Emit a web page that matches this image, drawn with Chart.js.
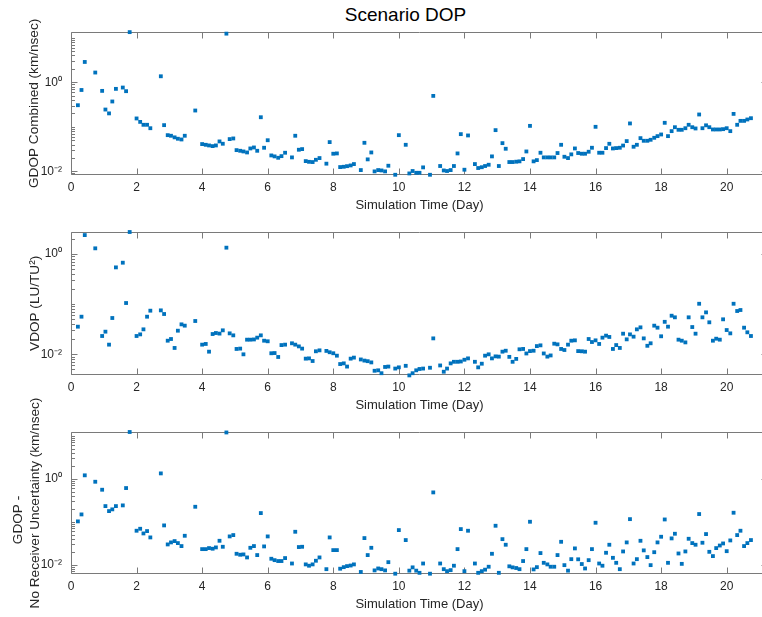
<!DOCTYPE html>
<html>
<head>
<meta charset="utf-8">
<script src="https://cdn.jsdelivr.net/npm/chart.js@4.4.1/dist/chart.umd.min.js"></script>
<style>
html,body{margin:0;padding:0;background:#fff;overflow:hidden;width:762px;height:617px;}
#wrap{position:relative;width:762px;height:617px;overflow:hidden;background:#fff;}
canvas{position:absolute;left:0;}
#title{position:absolute;left:0;width:811px;top:4px;text-align:center;font-family:"Liberation Sans",Arial,sans-serif;font-size:19px;line-height:22px;color:#000;}
</style>
</head>
<body>
<div id="wrap">
  <div id="title">Scenario DOP</div>
  <canvas id="c1" width="790" height="215" style="top:0px"></canvas>
  <canvas id="c2" width="790" height="200" style="top:215px"></canvas>
  <canvas id="c3" width="790" height="232" style="top:385px"></canvas>
</div>
<script>
// ---------------- DATA ----------------
// Simulation time (days) of each sample
const days = [
  0.21,0.32,0.42,0.53,0.63,0.74,0.84,0.95,1.05,1.16,1.26,1.37,1.47,1.58,1.68,1.79,1.89,
  2.00,2.11,2.21,2.32,2.42,2.53,2.63,2.74,2.84,2.95,3.05,3.16,3.26,3.37,3.47,3.58,3.68,3.79,3.89,
  4.00,4.11,4.21,4.32,4.42,4.53,4.63,4.74,4.84,4.95,5.05,5.16,5.26,5.37,5.47,5.58,5.68,5.79,5.89,
  6.00,6.11,6.21,6.32,6.42,6.53,6.63,6.74,6.84,6.95,7.05,7.16,7.26,7.37,7.47,7.58,7.68,7.79,7.89,
  8.00,8.11,8.21,8.32,8.42,8.53,8.63,8.74,8.84,8.95,9.05,9.16,9.26,9.37,9.47,9.58,9.68,9.79,9.89,
  10.00,10.11,10.21,10.32,10.42,10.53,10.63,10.74,10.84,10.95,11.05,11.16,11.26,11.37,11.47,11.58,11.68,11.79,11.89,
  12.00,12.11,12.21,12.32,12.42,12.53,12.63,12.74,12.84,12.95,13.05,13.16,13.26,13.37,13.47,13.58,13.68,13.79,13.89,
  14.00,14.11,14.21,14.32,14.42,14.53,14.63,14.74,14.84,14.95,15.05,15.16,15.26,15.37,15.47,15.58,15.68,15.79,15.89,
  16.00,16.11,16.21,16.32,16.42,16.53,16.63,16.74,16.84,16.95,17.05,17.16,17.26,17.37,17.47,17.58,17.68,17.79,17.89,
  18.00,18.11,18.21,18.32,18.42,18.53,18.63,18.74,18.84,18.95,19.05,19.16,19.26,19.37,19.47,19.58,19.68,19.79,19.89,
  20.00,20.11,20.21,20.32,20.42,20.53,20.63,20.74
];

// GDOP Combined (km/nsec)
const gdopCombined = [
  0.305,0.67,2.85,null,null,1.65,null,0.64,0.244,0.20,0.37,0.71,null,0.76,0.63,13.3,null,
  0.154,0.129,0.111,0.111,0.093,null,null,1.36,0.109,0.065,0.063,0.058,0.054,0.052,0.063,null,null,0.232,null,
  0.041,0.0395,0.0382,0.0369,0.0382,0.047,0.0417,12.3,0.053,0.0548,0.030,0.029,0.028,0.0266,0.0327,0.0344,0.029,0.164,0.0339,
  0.050,0.0228,0.0217,0.0202,0.022,0.0262,null,0.0206,0.063,0.0306,0.0316,0.017,0.0164,0.0162,0.0182,0.0199,null,0.0149,0.0454,
  0.0249,0.0253,0.0125,0.0127,0.0131,0.0136,0.0146,null,0.0107,0.0438,0.0186,0.0266,0.0100,0.0107,0.0105,0.0100,0.0134,null,0.0084,
  0.065,null,0.0395,0.0090,0.0102,0.0093,0.0093,0.0123,null,0.0084,0.494,null,0.0132,0.0105,0.0102,0.0107,0.0132,0.0253,0.0685,
  0.0109,0.064,null,0.0146,0.0119,0.0124,0.0132,0.0141,0.0217,0.0842,0.0132,0.043,0.0322,0.0162,0.0162,0.0165,0.0168,0.0189,0.028,
  0.105,0.0168,0.0179,0.0262,0.0206,0.0206,0.0206,0.0206,0.0258,0.0395,0.0213,0.0199,0.0241,0.0327,0.0258,0.0249,0.0249,0.0276,0.0339,
  0.100,0.0262,0.0262,0.0333,0.0416,0.0327,0.0333,0.0339,0.038,0.0478,0.119,0.0357,0.0395,0.0557,0.0486,0.0486,0.0512,0.0567,0.0618,
  0.0673,0.123,0.0618,0.080,0.098,0.0857,0.0857,0.093,0.111,0.098,0.0918,0.189,0.093,0.108,0.098,0.0872,0.0872,0.0872,0.0886,
  0.093,0.080,0.195,0.111,0.136,0.136,0.146,0.156
];

// VDOP (LU/TU^2)
const vdop = [
  0.0356,0.0563,2.39,null,null,1.30,null,0.0232,0.0283,0.0156,0.053,0.542,null,0.672,0.1055,2.75,null,
  0.0232,0.025,0.0315,0.0563,0.0742,null,null,0.0753,0.0637,0.0187,0.0202,0.0134,0.0296,0.0396,0.0373,null,null,0.0462,null,
  0.0156,0.0161,0.0113,0.0254,0.0266,0.0259,0.0301,1.34,0.0262,0.0239,0.0128,0.013,0.0100,0.0196,0.0196,0.0198,0.0215,0.0239,0.0187,
  0.0182,0.0105,0.0106,0.00885,0.0153,0.0156,null,0.0166,0.0156,0.0144,0.013,0.0082,0.0083,0.00736,0.0115,0.012,null,0.0117,0.011,
  0.0105,0.0094,0.0064,0.0066,0.0057,0.0082,0.0086,null,0.0079,0.0075,0.0073,0.0069,0.0047,0.0048,0.0042,0.0056,0.0057,null,0.0052,
  0.0055,null,0.0059,0.0038,0.0042,0.0048,0.0051,0.0052,null,0.0054,0.0208,null,0.006,0.0045,0.0052,0.0066,0.0071,0.0071,0.0072,
  0.0078,0.0083,null,0.0071,0.0055,0.0065,0.0094,0.0100,0.0083,0.0091,0.0090,0.0113,0.0118,0.0089,0.0071,0.0081,0.0126,0.0128,0.0104,
  0.0116,0.0118,0.0146,0.0151,0.0104,0.0090,0.0095,0.0163,0.0158,0.0128,0.0122,0.0156,0.0187,0.0190,0.0116,0.0115,0.0113,0.0202,0.0176,
  0.0190,0.0161,0.0215,0.0236,0.0222,0.0128,0.0153,0.0134,0.0258,0.0199,0.0250,0.0225,0.0315,0.0345,0.0208,0.0148,0.0166,0.0373,0.0340,
  0.0229,0.0445,0.0356,0.0589,0.0547,0.0196,0.0187,0.0173,0.0547,0.0350,0.0258,0.102,0.0547,0.0687,0.0435,0.0187,0.0205,0.0196,0.0499,
  0.0305,0.0262,0.102,0.0731,0.0765,0.0340,0.0275,0.0232
];

// GDOP - No Receiver Uncertainty (km/nsec)
const gdopNoRx = [
  0.102,0.148,1.20,null,null,0.851,null,0.555,0.231,0.177,0.194,0.231,null,0.24,0.607,12.2,null,
  0.0618,0.0687,0.0535,0.0607,0.0432,null,null,1.33,0.0822,0.0297,0.0331,0.0355,0.0319,0.0272,0.0472,null,null,0.223,null,
  0.0231,0.0231,0.0244,0.0236,0.0253,0.0361,0.0262,11.9,0.0456,0.049,0.018,0.0171,0.0174,0.0148,0.0248,0.0272,0.0168,0.159,0.0267,
  0.0456,0.0138,0.0128,0.0122,0.0122,0.0143,null,0.0107,0.0585,0.0258,0.0262,0.0102,0.0095,0.0102,0.0124,0.0148,null,0.0079,0.0432,
  0.0219,0.0219,0.0081,0.0088,0.0093,0.0096,0.0102,null,0.0068,0.0417,0.0168,0.0248,0.0074,0.0082,0.0079,0.0074,0.0115,null,0.0062,
  0.064,null,0.0375,0.0073,0.0087,0.0073,0.0065,0.0107,null,0.0062,0.481,null,0.0107,0.0079,0.0071,0.0075,0.0095,0.0231,0.0675,
  0.0071,0.0618,null,0.0107,0.0065,0.0071,0.0077,0.009,0.018,0.0807,0.0065,0.0394,0.0292,0.0092,0.0087,0.0084,0.0079,0.0122,0.0231,
  0.100,0.0078,0.0088,0.0187,0.0111,0.0102,0.009,0.009,0.0168,0.0342,0.0098,0.0073,0.0135,0.024,0.0134,0.0104,0.0082,0.0128,0.0231,
  0.0948,0.0107,0.0095,0.019,0.0292,0.0145,0.0111,0.0079,0.0204,0.0331,0.115,0.0107,0.0135,0.0361,0.0216,0.0151,0.0098,0.0196,0.0331,
  0.0448,0.113,0.0111,0.041,0.0526,0.0183,0.0105,0.0204,0.0402,0.0319,0.0292,0.151,0.0325,0.0517,0.0200,0.0159,0.0244,0.028,0.0313,
  0.0207,0.0368,0.162,0.049,0.0618,0.0272,0.0319,0.0375
];

// Axis tick values and labels
const xTickValues = [0, 2, 4, 6, 8, 10, 12, 14, 16, 18, 20];
const yTickValues = [0.01, 1];
const yTickLabels = ['10\u207B\u00B2', '10\u2070'];
const xAxisTitle = 'Simulation Time (Day)';
const yTitles = [
  'GDOP Combined (km/nsec)',
  'VDOP (LU/TU\u00B2)',
  ['GDOP -\u00A0\u00A0\u00A0\u00A0\u00A0\u00A0\u00A0\u00A0\u00A0', 'No Receiver Uncertainty (km/nsec)']
];
const yLimits = [[0.0083, 13.6], [0.00387, 2.79], [0.0061, 12.2]];
const xLimits = [0, 21.26];

// ---------------- STYLE ----------------
const FONT = '"Liberation Sans", Arial, Helvetica, sans-serif';
const TEXT = '#262626';
const AXIS = '#7a7a7a';
const MARK = '#0072BD';

const matlabAxes = {
  id: 'matlabAxes',
  beforeDatasetsDraw(chart) {
    const {ctx, chartArea: ca, scales: {x, y}} = chart;
    const L = Math.round(ca.left) + 0.5, R = Math.round(ca.right) - 0.5;
    const T = Math.round(ca.top) + 0.5, B = Math.round(ca.bottom) - 0.5;
    ctx.save();
    ctx.strokeStyle = AXIS;
    ctx.lineWidth = 1;
    ctx.beginPath();
    ctx.rect(L, T, R - L, B - T);
    // x ticks (bottom and top, inward)
    x.ticks.forEach(t => {
      const px = Math.round(x.getPixelForValue(t.value)) + 0.5;
      ctx.moveTo(px, B); ctx.lineTo(px, B - 6);
      ctx.moveTo(px, T); ctx.lineTo(px, T + 6);
    });
    // y log ticks (major on labelled decades, minor otherwise)
    const lo = Math.floor(Math.log10(y.min)), hi = Math.ceil(Math.log10(y.max));
    for (let n = lo; n <= hi; n++) {
      for (let k = 1; k <= 9; k++) {
        const v = k * Math.pow(10, n);
        if (v < y.min || v > y.max) continue;
        const major = (k === 1 && yTickValues.some(tv => Math.abs(tv - v) < 1e-12));
        const len = major ? 6 : 3.5;
        const py = Math.round(y.getPixelForValue(v)) + 0.5;
        ctx.moveTo(L, py); ctx.lineTo(L + len, py);
        ctx.moveTo(R, py); ctx.lineTo(R - len, py);
      }
    }
    ctx.stroke();
    ctx.restore();
  }
};

function makeChart(canvasId, values, limits, yTitle, pad, yTitlePad) {
  const pts = [];
  for (let i = 0; i < days.length; i++) {
    if (values[i] !== null && values[i] !== undefined) pts.push({x: days[i], y: values[i]});
  }
  return new Chart(document.getElementById(canvasId), {
    type: 'scatter',
    data: {
      datasets: [{
        data: pts,
        pointStyle: 'rect',
        pointRadius: 2.7,
        pointBackgroundColor: MARK,
        pointBorderWidth: 0,
        borderWidth: 0,
        showLine: false,
        clip: false
      }]
    },
    options: {
      responsive: false,
      animation: false,
      events: [],
      layout: {padding: pad},
      plugins: {legend: {display: false}, tooltip: {enabled: false}, title: {display: false}},
      scales: {
        x: {
          type: 'linear',
          min: xLimits[0], max: xLimits[1],
          afterBuildTicks: s => { s.ticks = xTickValues.map(v => ({value: v})); },
          afterFit: s => { s.height = 40; },
          grid: {display: false, drawTicks: false},
          border: {display: false},
          ticks: {font: {family: FONT, size: 12}, color: TEXT, padding: 5, maxRotation: 0, autoSkip: false},
          title: {display: true, text: xAxisTitle, color: TEXT,
                  font: {family: FONT, size: 13, lineHeight: 1.2}, padding: {top: 0, bottom: 1.7}}
        },
        y: {
          type: 'logarithmic',
          min: limits[0], max: limits[1],
          afterBuildTicks: s => { s.ticks = yTickValues.map(v => ({value: v, major: true})); },
          afterFit: s => { s.width = 71; },
          grid: {display: false, drawTicks: false},
          border: {display: false},
          ticks: {
            font: {family: FONT, size: 12}, color: TEXT, padding: 9, autoSkip: false,
            callback: (v) => { const idx = yTickValues.findIndex(t => Math.abs(t - v) < 1e-12); return idx >= 0 ? yTickLabels[idx] : ''; }
          },
          title: {display: true, text: yTitle, color: TEXT,
                  font: {family: FONT, size: 13.6, lineHeight: '16.7px'}, padding: {top: yTitlePad, bottom: 0}}
        }
      }
    },
    plugins: [matlabAxes]
  });
}

makeChart('c1', gdopCombined, yLimits[0], yTitles[0], {left: 0, right: 22, top: 31.7, bottom: 0}, 26.2);
makeChart('c2', vdop, yLimits[1], yTitles[1], {left: 0, right: 22, top: 16.7, bottom: 0}, 26.7);
makeChart('c3', gdopNoRx, yLimits[2], yTitles[2], {left: 0, right: 22, top: 47, bottom: 3}, 10);
</script>
</body>
</html>
